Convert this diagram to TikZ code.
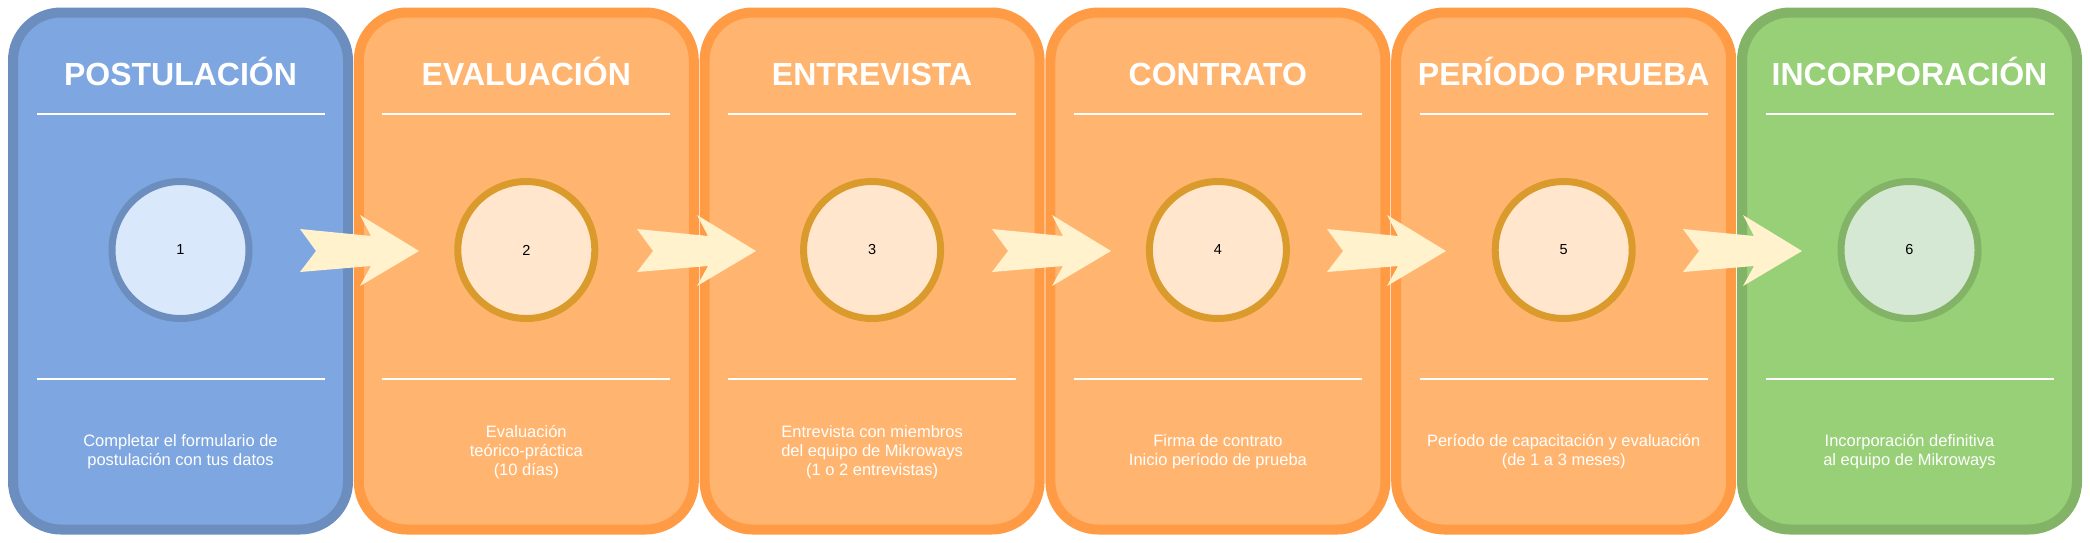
\documentclass[tikz,border=0pt]{standalone}
\usepackage{fontspec}
\setmainfont{Liberation Sans}
\definecolor{bluefill}{HTML}{7EA6E0}
\definecolor{bluedraw}{HTML}{6C8EBF}
\definecolor{bluecirc}{HTML}{DAE8FC}
\definecolor{orfill}{HTML}{FFB570}
\definecolor{ordraw}{HTML}{FF9A45}
\definecolor{orcirc}{HTML}{FFE6CC}
\definecolor{orcircdraw}{HTML}{DA9B2C}
\definecolor{grfill}{HTML}{97D077}
\definecolor{grdraw}{HTML}{82B366}
\definecolor{grcirc}{HTML}{D5E8D4}
\definecolor{arrfill}{HTML}{FFF2CC}
\tikzset{
  stagebox/.style={rectangle, rounded corners=48pt, line width=10pt,
    minimum width=335pt, minimum height=517pt, inner sep=0pt},
  stagetitle/.style={text=white, font=\fontsize{32}{38}\selectfont\bfseries,
    inner sep=0pt, anchor=base},
  sepline/.style={draw=white, line width=2pt},
  stagecirc/.style={circle, minimum size=137pt, line width=7pt, inner sep=0pt,
    font=\fontsize{14.5}{17}\selectfont},
  stagedesc/.style={text=white, align=center, inner sep=0pt,
    font=\fontsize{16.5}{19}\selectfont},
  blockarr/.pic={\fill[arrfill] (0,-22) -- (16,0) -- (0,21) -- (71,15) -- (60,35)
     -- (119,0) -- (60,-36) -- (71,-15) -- cycle;}
}
\begin{document}
\begin{tikzpicture}[x=1pt,y=-1pt]
\useasboundingbox (0,0) rectangle (2090,542);
\foreach \i/\fc/\dc/\cc/\cd/\ttl/\desc in {
  1/bluefill/bluedraw/bluecirc/bluedraw/{POSTULACIÓN}/{Completar el formulario de\\postulación con tus datos},
  2/orfill/ordraw/orcirc/orcircdraw/{EVALUACIÓN}/{Evaluación\\teórico-práctica\\(10 días)},
  3/orfill/ordraw/orcirc/orcircdraw/{ENTREVISTA}/{Entrevista con miembros\\del equipo de Mikroways\\(1 o 2 entrevistas)},
  4/orfill/ordraw/orcirc/orcircdraw/{CONTRATO}/{Firma de contrato\\Inicio período de prueba},
  5/orfill/ordraw/orcirc/orcircdraw/{PERÍODO PRUEBA}/{Período de capacitación y evaluación\\(de 1 a 3 meses)},
  6/grfill/grdraw/grcirc/grdraw/{INCORPORACIÓN}/{Incorporación definitiva\\al equipo de Mikroways}}
{
  \pgfmathsetmacro{\cx}{180.5+345.8*(\i-1)}
  \node[stagebox, fill=\fc, draw=\dc] (box\i) at (\cx,271) {};
  \node[stagetitle] (title\i) at (\cx,85) {\ttl};
  \coordinate (tl\i) at (\cx-144,114);
  \coordinate (tr\i) at (\cx+144,114);
  \coordinate (bl\i) at (\cx-144,379);
  \coordinate (br\i) at (\cx+144,379);
  \draw[sepline] (tl\i) -- (tr\i);
  \draw[sepline] (bl\i) -- (br\i);
  \node[stagecirc, fill=\cc, draw=\cd] (circ\i) at (\cx,250) {\i};
  \node[stagedesc] (desc\i) at (\cx,452) {\desc};
}
\foreach \j/\ax in {1/300,2/637,3/992,4/1327,5/1683}{
  \coordinate (arr\j) at (\ax,251);
  \pic at (arr\j) {blockarr};
}
\end{tikzpicture}
\end{document}
